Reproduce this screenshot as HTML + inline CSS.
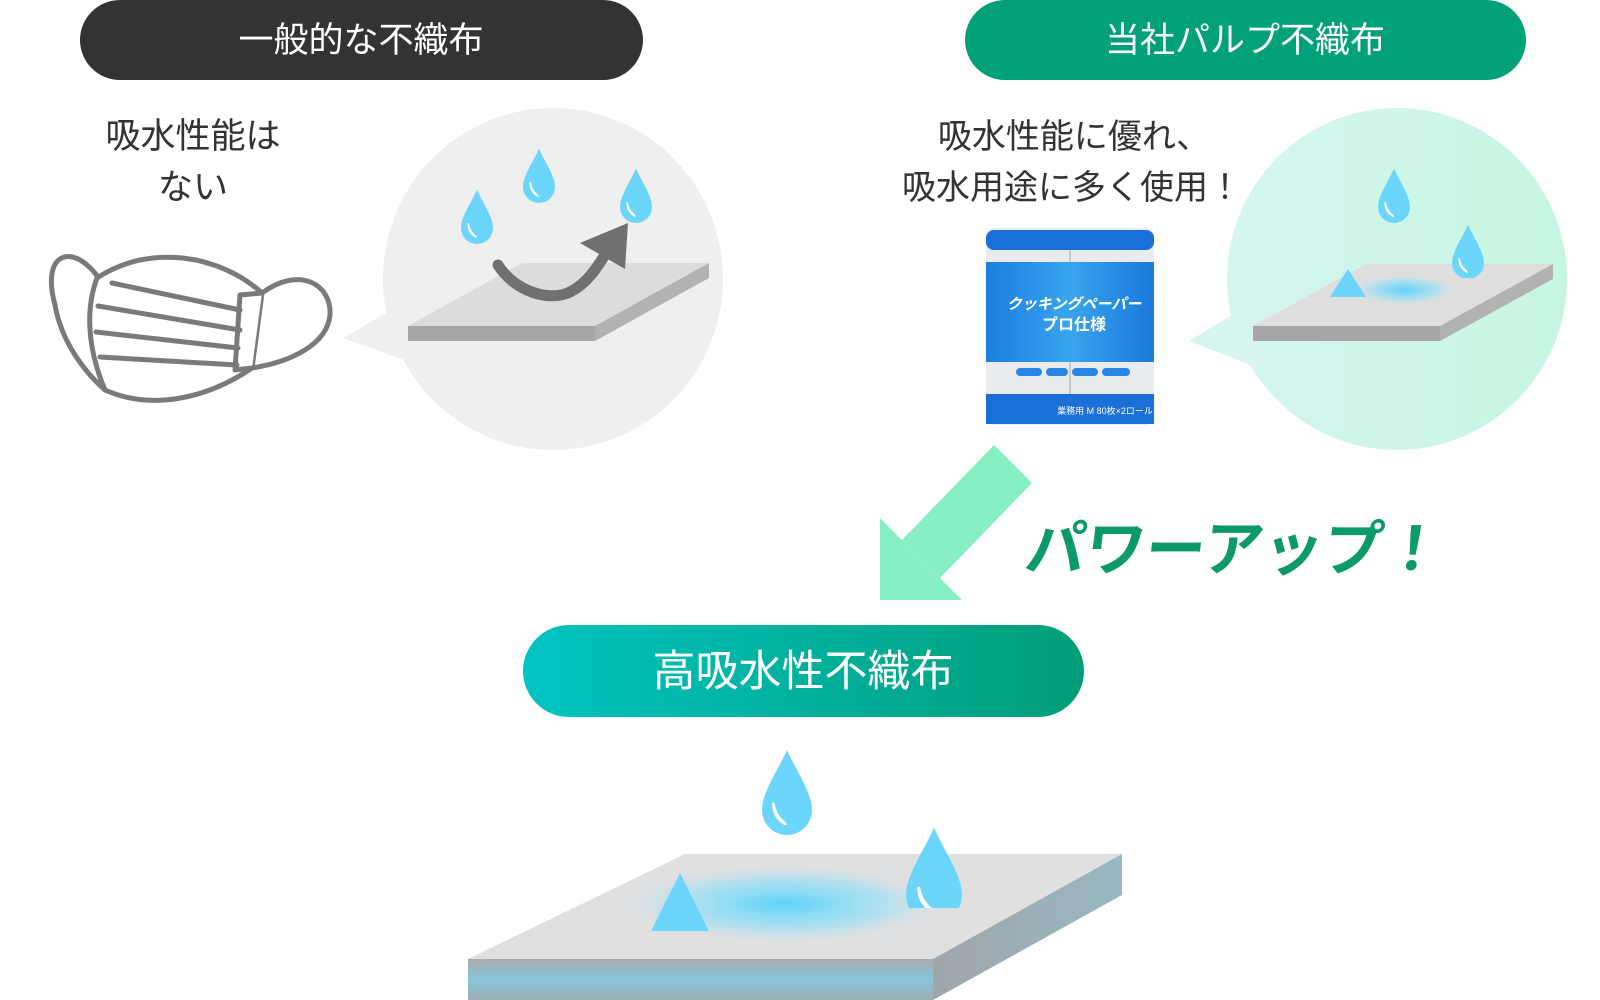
<!DOCTYPE html>
<html><head><meta charset="utf-8"><style>
html,body{margin:0;padding:0;background:#fff;width:1600px;height:1000px;overflow:hidden}
svg{display:block}
text{font-family:"Liberation Sans","Noto Sans CJK JP",sans-serif}
</style></head><body>
<svg width="1600" height="1000" viewBox="0 0 1600 1000" xmlns="http://www.w3.org/2000/svg">
<defs>
<g id="drop"><path d="M0,-2.4 C0.35,-1.6 1,-0.7 1,0 A1,1 0 0 1 -1,0 C-1,-0.7 -0.35,-1.6 0,-2.4Z" fill="#6cd5fb"/><path d="M-0.6,-0.3 C-0.6,0.15 -0.4,0.45 -0.1,0.6 C0.05,0.65 0,0.5 -0.15,0.4 C-0.35,0.2 -0.45,0 -0.5,-0.3Z" fill="#fff"/></g>
<linearGradient id="gpill" x1="0" x2="1" y1="0" y2="0"><stop offset="0" stop-color="#00c4c2"/><stop offset="1" stop-color="#009d77"/></linearGradient>
<linearGradient id="mint" x1="0" x2="1" y1="0" y2="0"><stop offset="0" stop-color="#d6f5f0"/><stop offset="1" stop-color="#c6f6e1"/></linearGradient>
<radialGradient id="wet" cx="0.5" cy="0.5" r="0.5"><stop offset="0" stop-color="#5cd3fb"/><stop offset="0.6" stop-color="#9ee0f5" stop-opacity="0.7"/><stop offset="1" stop-color="#e2e2e2" stop-opacity="0"/></radialGradient>
<linearGradient id="front" x1="0" x2="0" y1="0" y2="1"><stop offset="0" stop-color="#a8acb0"/><stop offset="0.5" stop-color="#86c6db"/><stop offset="1" stop-color="#a0aeb6"/></linearGradient>
<linearGradient id="side" x1="0" x2="1" y1="0" y2="0"><stop offset="0" stop-color="#a0a6aa"/><stop offset="1" stop-color="#98b8c4"/></linearGradient>
<linearGradient id="pkg" x1="0" x2="1" y1="0" y2="0"><stop offset="0" stop-color="#1c7ee0"/><stop offset="0.5" stop-color="#38a4ee"/><stop offset="1" stop-color="#1a78da"/></linearGradient>
<clipPath id="c1"><rect x="1430" y="200" width="80" height="78"/></clipPath>
<clipPath id="c2"><rect x="890" y="800" width="100" height="108"/></clipPath>
</defs>

<!-- header pills -->
<rect x="80" y="0" width="563" height="80" rx="40" fill="#333"/>
<text x="361" y="52" text-anchor="middle" font-size="35" fill="#fff">一般的な不織布</text>
<rect x="965" y="0" width="561" height="80" rx="40" fill="#00a078"/>
<text x="1245" y="52" text-anchor="middle" font-size="35" fill="#fff">当社パルプ不織布</text>

<!-- left text -->
<text x="193" y="148" text-anchor="middle" font-size="35" fill="#333">吸水性能は</text>
<text x="193" y="199" text-anchor="middle" font-size="35" fill="#333">ない</text>

<!-- mask -->
<g fill="#fff" stroke="#7a7a7a" stroke-width="5" stroke-linejoin="round" stroke-linecap="round">
<path d="M100,280 C75,242 40,250 55,305 C62,345 88,375 105,390" />
<path d="M262,293 C300,265 332,285 330,315 C327,345 290,362 252,368"/>
<path d="M97,278 C150,243 220,255 262,293 L252,368 C205,400 150,410 105,390 C88,350 85,310 97,278 Z"/>
<path d="M262,293 L240,295 L235,370 L252,368"/>
<path d="M112,283 L240,310 M98,306 L240,330 M96,332 L238,348 M100,357 L237,365" fill="none"/>
</g>

<!-- gray bubble -->
<ellipse cx="553" cy="279" rx="170" ry="171" fill="#efefef"/>
<polygon points="343,338 400,305 410,362" fill="#efefef"/>
<polygon points="408,326 595,326 709,263 522,263" fill="#dcdcdc"/>
<rect x="408" y="326" width="187" height="15" fill="#a6a6a6"/>
<polygon points="595,326 709,263 709,278 595,341" fill="#b2b2b2"/>
<path d="M498,265 C515,292 550,302 570,292 C590,282 600,262 610,247" fill="none" stroke="#707070" stroke-width="11" stroke-linecap="round"/>
<polygon points="580,243 628,223 625,269" fill="#707070"/>
<use href="#drop" transform="translate(477,228) scale(16)"/>
<use href="#drop" transform="translate(539,187) scale(16)"/>
<use href="#drop" transform="translate(636,207) scale(16)"/>

<!-- right text -->
<text x="1074" y="148" text-anchor="middle" font-size="34" fill="#333">吸水性能に優れ、</text>
<text x="1072" y="199" text-anchor="middle" font-size="34" fill="#333">吸水用途に多く使用！</text>

<!-- product -->
<g>
<rect x="986" y="228" width="168" height="197" rx="8" fill="#e9ecef"/>
<rect x="986" y="230" width="168" height="20" rx="8" fill="#1b6fd8"/>
<rect x="986" y="262" width="168" height="100" fill="url(#pkg)"/>
<rect x="986" y="394" width="168" height="30" fill="#1b6fd8"/>
<line x1="1070" y1="250" x2="1070" y2="262" stroke="#c9c9c9" stroke-width="2"/>
<line x1="1070" y1="362" x2="1070" y2="394" stroke="#c9c9c9" stroke-width="2"/>
<text x="1074" y="309" text-anchor="middle" font-size="15" font-weight="bold" fill="#fff" font-style="italic">クッキングペーパー</text>
<text x="1074" y="330" text-anchor="middle" font-size="16" font-weight="bold" fill="#fff">プロ仕様</text>
<rect x="1016" y="368" width="26" height="8" rx="4" fill="#2a86e4"/><rect x="1046" y="368" width="22" height="8" rx="4" fill="#2a86e4"/><rect x="1072" y="368" width="26" height="8" rx="4" fill="#2a86e4"/><rect x="1102" y="368" width="28" height="8" rx="4" fill="#2a86e4"/>
<text x="1105" y="414" text-anchor="middle" font-size="9" fill="#fff">業務用 M 80枚×2ロール</text>
</g>

<!-- mint bubble -->
<ellipse cx="1397" cy="279" rx="170" ry="171" fill="url(#mint)"/>
<polygon points="1189,341 1240,310 1250,365" fill="#d6f5f0"/>
<polygon points="1253,326 1440,326 1553,264 1366,264" fill="#dedede"/>
<ellipse cx="1404" cy="290" rx="55" ry="16" fill="url(#wet)"/>
<rect x="1253" y="326" width="187" height="15" fill="#a6a6a6"/>
<polygon points="1440,326 1553,264 1553,279 1440,341" fill="#b2b2b2"/>
<polygon points="1348,269 1330,297 1366,297" fill="#6cd5fb"/>
<use href="#drop" transform="translate(1394,207) scale(16)"/>
<g clip-path="url(#c1)"><use href="#drop" transform="translate(1468,263) scale(16)"/></g>

<!-- big arrow -->
<polygon points="902,540 940,578 1032,483 994,445" fill="#86f0c2"/>
<polygon points="880,600 880,518 962,600" fill="#86f0c2"/>
<text x="1222" y="570" text-anchor="middle" font-size="60" font-weight="bold" fill="#0c9a68" transform="translate(80,0) skewX(-7)">パワーアップ！</text>

<!-- bottom pill -->
<rect x="523" y="625" width="561" height="92" rx="46" fill="url(#gpill)"/>
<text x="803" y="686" text-anchor="middle" font-size="43" fill="#fff">高吸水性不織布</text>

<!-- bottom slab -->
<polygon points="468,959 933,959 1122,854 685,854" fill="#e0e0e0"/>
<ellipse cx="784" cy="904" rx="170" ry="42" fill="url(#wet)"/>
<rect x="468" y="959" width="465" height="41" fill="url(#front)"/>
<polygon points="933,959 1122,854 1122,895 933,1000" fill="url(#side)"/>
<polygon points="680,873 651,931 709,931" fill="#6cd5fb"/>
<use href="#drop" transform="translate(787,810) scale(25)"/>
<g clip-path="url(#c2)"><use href="#drop" transform="translate(934,895) scale(28)"/></g>
</svg>
</body></html>
